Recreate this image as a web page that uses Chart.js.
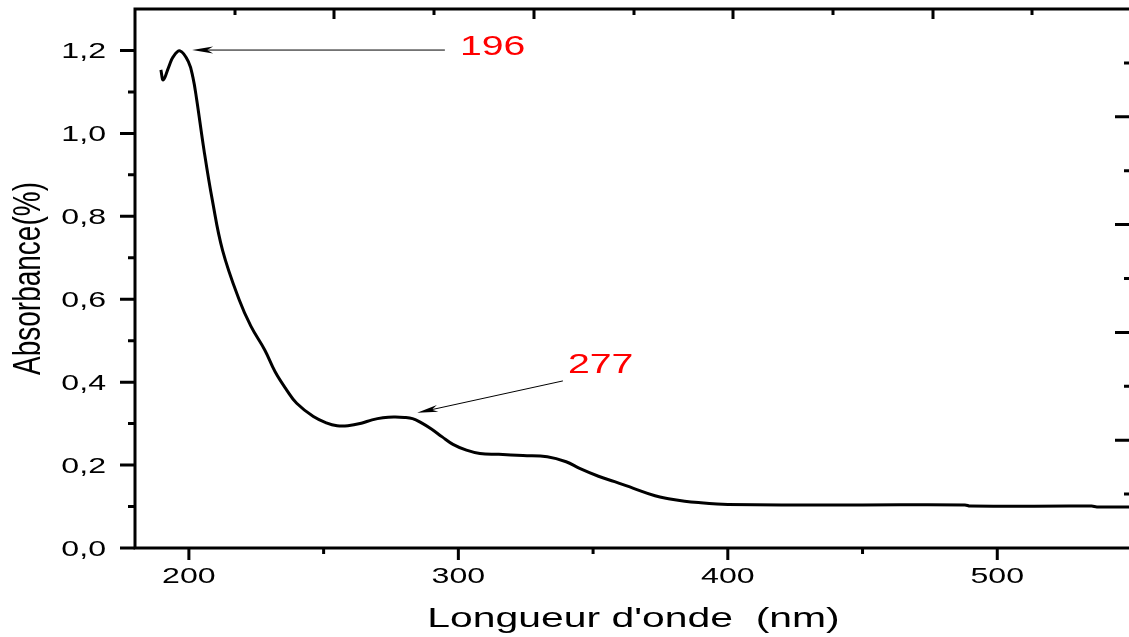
<!DOCTYPE html>
<html>
<head>
<meta charset="utf-8">
<script src="https://cdn.jsdelivr.net/npm/chart.js@4.4.0/dist/chart.umd.min.js"></script>
<style>
  html, body { margin: 0; padding: 0; overflow: hidden; background: #fff; }
  canvas { display: block; }
</style>
</head>
<body>
<canvas id="spectre" width="1133" height="637"></canvas>
<script>

// spectre UV-Vis
const wavelength = [189.6, 190.5, 192.5, 194.2, 196.7, 199.8, 201.5, 202.9, 205.6, 208.7, 212.5, 218.7, 223, 228.2, 232, 236.3, 240.0, 246.2, 251, 255, 259, 264, 268, 272, 276, 280, 283, 286, 290, 294, 298, 303, 308, 315, 324, 333, 340, 345, 352, 358, 365, 373, 378, 384, 390, 396, 400, 420, 450, 488, 490, 535, 537, 550];
const absorbance = [1.153, 1.129, 1.16, 1.185, 1.199, 1.173, 1.135, 1.081, 0.960, 0.839, 0.718, 0.598, 0.535, 0.477, 0.425, 0.381, 0.349, 0.317, 0.302, 0.295, 0.295, 0.301, 0.309, 0.314, 0.316, 0.315, 0.312, 0.303, 0.287, 0.268, 0.250, 0.236, 0.228, 0.226, 0.223, 0.220, 0.208, 0.192, 0.173, 0.160, 0.144, 0.126, 0.119, 0.113, 0.109, 0.106, 0.105, 0.104, 0.104, 0.104, 0.101, 0.101, 0.099, 0.099];

const xTicks = [200, 300, 400, 500];
const xMinorTicks = [250, 350, 450];
const yTicks = [0, 0.2, 0.4, 0.6, 0.8, 1.0, 1.2];
const yMinorTicks = [0.1, 0.3, 0.5, 0.7, 0.9, 1.1];
// axes du haut et de droite (graduations seules, échelle 0..5)
const topTicks = [1, 2, 3, 4];
const topMinorTicks = [0.5, 1.5, 2.5, 3.5, 4.5];
const rightTicks = [1, 2, 3, 4];
const rightMinorTicks = [0.5, 1.5, 2.5, 3.5, 4.5];

const xTitle = "Longueur d'onde  (nm)";
const yTitle = 'Absorbance(%)';

// pics annotés
const peakNames = ['196', '277'];
const peakLabelX = [300.6, 340.7];
const peakLabelY = [1.189, 0.422];
const arrowFromX = [295.0, 338.8];
const arrowFromY = [1.201, 0.403];
const arrowToX = [201.2, 284.7];
const arrowToY = [1.201, 0.326];

const STRETCH = 1.46;

function stretchedText(ctx, text, x, y, sx, align) {
  ctx.save();
  ctx.translate(x, y);
  ctx.scale(sx, 1);
  ctx.textAlign = align;
  ctx.textBaseline = 'alphabetic';
  ctx.fillText(text, 0, 0);
  ctx.restore();
}

// flèches + numéros des pics
const pics = {
  id: 'pics',
  afterDatasetsDraw(chart) {
    const ctx = chart.ctx;
    const sx = chart.scales.x, sy = chart.scales.y;
    ctx.save();
    peakNames.forEach((name, i) => {
      const x0 = sx.getPixelForValue(arrowFromX[i]), y0 = sy.getPixelForValue(arrowFromY[i]);
      const x1 = sx.getPixelForValue(arrowToX[i]), y1 = sy.getPixelForValue(arrowToY[i]);
      const ang = Math.atan2(y1 - y0, x1 - x0);
      const cos = Math.cos(ang), sin = Math.sin(ang);
      ctx.strokeStyle = '#000';
      ctx.lineWidth = 1;
      ctx.beginPath();
      ctx.moveTo(x0, y0);
      ctx.lineTo(x1 - 10 * cos, y1 - 10 * sin);
      ctx.stroke();
      ctx.fillStyle = '#000';
      ctx.beginPath();
      ctx.moveTo(x1, y1);
      ctx.lineTo(x1 - 21 * cos - 3.5 * sin, y1 - 21 * sin + 3.5 * cos);
      ctx.lineTo(x1 - 15 * cos, y1 - 15 * sin);
      ctx.lineTo(x1 - 21 * cos + 3.5 * sin, y1 - 21 * sin - 3.5 * cos);
      ctx.closePath();
      ctx.fill();

      ctx.fillStyle = '#ff0000';
      ctx.font = '28px "Liberation Sans", Arial, sans-serif';
      stretchedText(ctx, name, sx.getPixelForValue(peakLabelX[i]), sy.getPixelForValue(peakLabelY[i]), 1.4, 'left');
    });
    ctx.restore();
  }
};

// cadre, graduations et textes des axes
const cadre = {
  id: 'cadre',
  afterDraw(chart) {
    const ctx = chart.ctx;
    const a = chart.chartArea;
    const sx = chart.scales.x, sy = chart.scales.y;
    const sx2 = chart.scales.x2, sy2 = chart.scales.y2;

    const topPx = v => {
      const p = sx2 ? sx2.getPixelForValue(v) : NaN;
      return Number.isFinite(p) && p > a.left && p < a.right ? p : a.left + v / 5 * (a.right - a.left);
    };
    const rightPx = v => {
      const p = sy2 ? sy2.getPixelForValue(v) : NaN;
      return Number.isFinite(p) && p > a.top && p < a.bottom ? p : a.bottom - v / 5 * (a.bottom - a.top);
    };

    ctx.save();
    ctx.setTransform(1, 0, 0, 1, 0, 0);
    ctx.globalAlpha = 1;
    ctx.globalCompositeOperation = 'source-over';
    ctx.strokeStyle = '#000';
    ctx.fillStyle = '#000';
    ctx.lineWidth = 3;
    ctx.strokeRect(a.left, a.top, a.right - a.left, a.bottom - a.top);

    ctx.beginPath();
    xTicks.forEach(v => { const p = sx.getPixelForValue(v); ctx.moveTo(p, a.bottom); ctx.lineTo(p, a.bottom + 12); });
    xMinorTicks.forEach(v => { const p = sx.getPixelForValue(v); ctx.moveTo(p, a.bottom); ctx.lineTo(p, a.bottom + 6); });
    yTicks.forEach(v => { const p = sy.getPixelForValue(v); ctx.moveTo(a.left, p); ctx.lineTo(a.left - 15, p); });
    yMinorTicks.forEach(v => { const p = sy.getPixelForValue(v); ctx.moveTo(a.left, p); ctx.lineTo(a.left - 7, p); });
    rightTicks.forEach(v => { const p = rightPx(v); ctx.moveTo(a.right, p); ctx.lineTo(a.right - 17, p); });
    rightMinorTicks.forEach(v => { const p = rightPx(v); ctx.moveTo(a.right, p); ctx.lineTo(a.right - 8, p); });
    ctx.stroke();

    // graduations du haut, vers l'intérieur
    topTicks.forEach(v => ctx.fillRect(Math.round(topPx(v)) - 1.5, a.top, 3, 10));
    topMinorTicks.forEach(v => ctx.fillRect(Math.round(topPx(v)) - 1.5, a.top, 3, 6));

    ctx.font = '22px "Liberation Sans", Arial, sans-serif';
    xTicks.forEach(v => stretchedText(ctx, String(v), sx.getPixelForValue(v), a.bottom + 35, STRETCH, 'center'));
    yTicks.forEach(v => stretchedText(ctx, v.toFixed(1).replace('.', ','), a.left - 29, sy.getPixelForValue(v) + 8, STRETCH, 'right'));

    ctx.font = '28px "Liberation Sans", Arial, sans-serif';
    stretchedText(ctx, xTitle, (a.left + a.right) / 2, a.bottom + 79, STRETCH, 'center');

    ctx.translate(a.left - 95, (a.top + a.bottom) / 2);
    ctx.rotate(-Math.PI / 2);
    ctx.scale(1, 1.4);
    ctx.textAlign = 'center';
    ctx.textBaseline = 'alphabetic';
    ctx.fillText(yTitle, 0, 0);
    ctx.restore();
  }
};

const hidden = () => ({
  grid: { display: false },
  border: { display: false },
  ticks: { display: false }
});

new Chart(document.getElementById('spectre'), {
  type: 'line',
  data: {
    datasets: [{
      data: wavelength.map((w, i) => ({ x: w, y: absorbance[i] })),
      borderColor: '#000',
      borderWidth: 3,
      pointRadius: 0,
      tension: 0.4,
      fill: false
    }]
  },
  options: {
    responsive: false,
    animation: false,
    layout: { padding: { top: 9, right: 1, left: 0, bottom: 0 } },
    plugins: {
      legend: { display: false },
      tooltip: { enabled: false }
    },
    scales: {
      x: { type: 'linear', position: 'bottom', min: 180, max: 550, ...hidden(),
        afterFit(s) { s.height = 89; } },
      y: { type: 'linear', position: 'left', min: 0, max: 1.3, ...hidden(),
        afterFit(s) { s.width = 135; } },
      x2: { type: 'linear', position: 'top', min: 0, max: 5, ...hidden(),
        afterFit(s) { s.height = 0; } },
      y2: { type: 'linear', position: 'right', min: 0, max: 5, ...hidden(),
        afterFit(s) { s.width = 0; } }
    }
  },
  plugins: [pics, cadre]
});
</script>
</body>
</html>
